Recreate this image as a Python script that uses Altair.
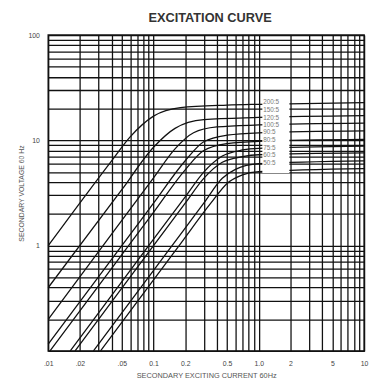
import altair as alt
import pandas as pd

# Curve names (CT ratios) and points
ratios = ["200:5", "150:5", "120:5", "100:5", "90:5", "80:5", "75:5", "60:5", "50:5"]

c1_i = [0.01, 0.04, 0.06, 0.1, 0.18, 0.5, 1.0, 10]
c1_v = [1.0, 6.4, 10.8, 17, 20.5, 21.6, 22, 22.8]
c2_i = [0.01, 0.05, 0.1, 0.16, 0.3, 1.0, 10]
c2_v = [0.4, 3.4, 8.6, 13, 15.7, 16.5, 17.2]
c3_i = [0.01, 0.05, 0.1, 0.16, 0.24, 0.4, 1.0, 10]
c3_v = [0.2, 1.74, 4.4, 8.3, 11.8, 13.4, 14, 14.6]
c4_i = [0.01, 0.05, 0.1, 0.2, 0.3, 0.5, 1.0, 10]
c4_v = [0.116, 1.0, 2.53, 6.4, 9.7, 11.2, 11.8, 12.3]
c5_i = [0.0104, 0.058, 0.1, 0.2, 0.3, 0.5, 1.0, 10]
c5_v = [0.1, 1.0, 2.07, 5.25, 8.0, 9.3, 9.8, 10.2]
c6_i = [0.0162, 0.09, 0.2, 0.3, 0.45, 0.7, 1.0, 10]
c6_v = [0.1, 1.0, 2.91, 5.0, 7.1, 8.1, 8.4, 8.8]
c7_i = [0.018, 0.1, 0.2, 0.3, 0.45, 0.7, 1.0, 10]
c7_v = [0.1, 1.0, 2.53, 4.36, 6.2, 7.0, 7.3, 7.6]
c8_i = [0.0269, 0.15, 0.3, 0.45, 0.6, 1.0, 10]
c8_v = [0.1, 1.0, 2.53, 4.36, 5.3, 6.0, 6.4]
c9_i = [0.0314, 0.175, 0.35, 0.5, 0.7, 1.0, 10]
c9_v = [0.1, 1.0, 2.53, 3.9, 4.7, 5.05, 5.4]

curves_i = [c1_i, c2_i, c3_i, c4_i, c5_i, c6_i, c7_i, c8_i, c9_i]
curves_v = [c1_v, c2_v, c3_v, c4_v, c5_v, c6_v, c7_v, c8_v, c9_v]

# Ratio label positions (voltage)
label_v = [23.2, 19.5, 16.4, 14.1, 11.9, 10.0, 8.4, 7.2, 6.1]
label_i = 1.1

# Label box extents (data coordinates)
box_i = [1.08, 1.95]
box_v = [4.9, 26]

# Grid / tick values
x_ticks = [0.01, 0.02, 0.03, 0.04, 0.05, 0.06, 0.07, 0.08, 0.09,
           0.1, 0.2, 0.3, 0.4, 0.5, 0.6, 0.7, 0.8, 0.9,
           1, 2, 3, 4, 5, 6, 7, 8, 9, 10]
x_labels = {0.01: ".01", 0.02: ".02", 0.05: ".05", 0.1: "0.1", 0.2: "0.2",
            0.5: "0.5", 1: "1.0", 2: "2", 5: "5", 10: "10"}
y_ticks = [0.1, 0.2, 0.3, 0.4, 0.5, 0.6, 0.7, 0.8, 0.9,
           1, 2, 3, 4, 5, 6, 7, 8, 9,
           10, 20, 30, 40, 50, 60, 70, 80, 90, 100]
y_labels = {1: "1", 10: "10", 100: "100"}

rows = []
for name, ii, vv in zip(ratios, curves_i, curves_v):
    for k, (a, b) in enumerate(zip(ii, vv)):
        rows.append({"curve": name, "I": a, "V": b, "k": k})
df = pd.DataFrame(rows)

lab_df = pd.DataFrame({"t": ratios, "I": [label_i] * len(ratios), "V": label_v})
box_df = pd.DataFrame({"i1": [box_i[0]], "i2": [box_i[1]], "v1": [box_v[0]], "v2": [box_v[1]]})


def lexpr(d):
    e = "''"
    for k, v in d.items():
        e = f"datum.value == {k} ? '{v}' : ({e})"
    return e


xs = alt.Scale(type="log", domain=[0.01, 10], nice=False)
ys = alt.Scale(type="log", domain=[0.1, 100], nice=False)

xaxis = alt.Axis(values=x_ticks, labelExpr=lexpr(x_labels), grid=True, ticks=False,
                 domain=False, labelOverlap=False, labelFlush=False,
                 title="SECONDARY EXCITING CURRENT 60Hz", titleFontSize=7.5,
                 titleFontWeight="normal", titleColor="#555", titlePadding=5,
                 labelFontSize=7, labelColor="#444", labelPadding=9)
yaxis = alt.Axis(values=y_ticks, labelExpr=lexpr(y_labels), grid=True, ticks=False,
                 domain=False, labelOverlap=False, labelFlush=False,
                 title="SECONDARY VOLTAGE 60 Hz", titleFontSize=7,
                 titleFontWeight="normal", titleColor="#555", titlePadding=4,
                 labelFontSize=7, labelColor="#444", labelPadding=9)

lines = alt.Chart(df).mark_line(color="#111", strokeWidth=1.3, interpolate="monotone").encode(
    x=alt.X("I:Q", scale=xs, axis=xaxis),
    y=alt.Y("V:Q", scale=ys, axis=yaxis),
    detail="curve:N",
    order="k:Q",
)

box = alt.Chart(box_df).mark_rect(color="white").encode(
    x=alt.X("i1:Q", scale=xs), x2="i2:Q",
    y=alt.Y("v1:Q", scale=ys), y2="v2:Q",
)

labels = alt.Chart(lab_df).mark_text(align="left", baseline="middle", fontSize=6.5,
                                    color="#777", font="Liberation Sans").encode(
    x=alt.X("I:Q", scale=xs), y=alt.Y("V:Q", scale=ys), text="t:N"
)

chart = alt.layer(lines, box, labels).properties(
    width=322, height=322,
    title=alt.TitleParams("EXCITATION CURVE", fontSize=13, fontWeight="bold",
                          color="#333", font="Liberation Sans", offset=6, dx=4),
    autosize=alt.AutoSizeParams(type="none"),
    padding={"left": 41, "top": 24, "right": 6, "bottom": 25},
).configure_view(stroke="#111", strokeWidth=1.5).configure_axis(
    gridColor="#111", gridWidth=1.3, gridOpacity=1, labelFont="Liberation Sans",
    titleFont="Liberation Sans"
)

chart.save("out.html", embed_options={"renderer": "svg", "actions": False})
